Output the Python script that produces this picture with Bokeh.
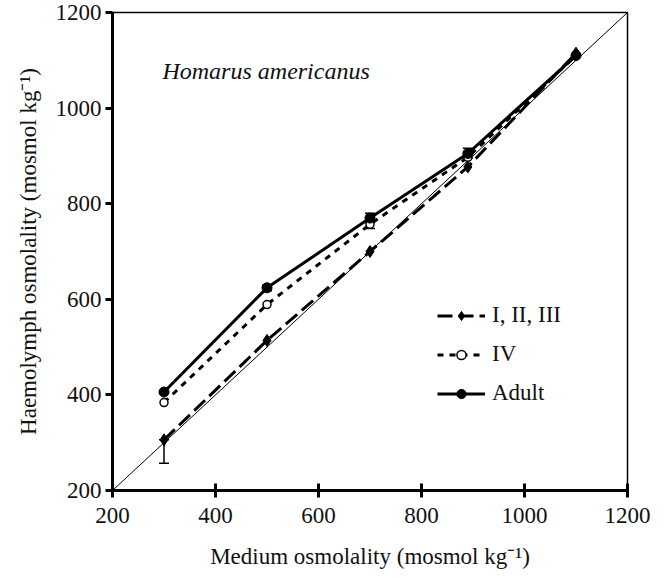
from bokeh.plotting import figure
from bokeh.models import Range1d, FixedTicker, Label, Whisker, ColumnDataSource, TeeHead
from bokeh.embed import file_html
from bokeh.resources import INLINE

# ---- data ----
medium = [300, 500, 700, 890, 1100]
stage_123 = [306, 514, 700, 877, 1115]
stage_4 = [384, 589, 757, 897, 1110]
adult = [406, 624, 770, 905, 1110]
identity = [200, 1200]
ticks = [200, 400, 600, 800, 1000, 1200]

err_x = [300, 500, 700, 890, 700]
err_lower = [257, 618, 760, 895, 748]
err_upper = [306, 630, 780, 916, 765]

FONT = "Liberation Serif"
FS = "23px"

p = figure(width=652, height=571, output_backend="svg", toolbar_location=None,
           x_range=Range1d(200, 1200), y_range=Range1d(200, 1200),
           min_border_left=112, min_border_right=25, min_border_top=12, min_border_bottom=79)
p.background_fill_color = "white"
p.border_fill_color = "white"
p.grid.visible = False
p.outline_line_color = "black"
p.outline_line_width = 1.5

# identity line
p.line(identity, identity, line_color="black", line_width=1)

# error bars
src = ColumnDataSource(dict(x=err_x, lo=err_lower, hi=err_upper))
w = Whisker(source=src, base="x", lower="lo", upper="hi", line_color="black", line_width=1.5,
            upper_head=TeeHead(size=10, line_width=1.5), lower_head=TeeHead(size=10, line_width=1.5))
p.add_layout(w)

# series
p.line(medium, stage_123, line_color="black", line_width=3, line_dash="15 6", legend_label="I, II, III")
p.scatter(medium, stage_123, marker="diamond", size=12, fill_color="black", line_color="black",
          legend_label="I, II, III")

p.line(medium, stage_4, line_color="black", line_width=3, line_dash="6 6", legend_label="IV")
p.scatter(medium, stage_4, marker="circle", size=8, fill_color="white", line_color="black",
          line_width=1.5, legend_label="IV")

p.line(medium, adult, line_color="black", line_width=3, legend_label="Adult")
p.scatter(medium, adult, marker="circle", size=10, fill_color="black", line_color="black",
          legend_label="Adult")

# annotation
p.add_layout(Label(x=297, y=1078, text="Homarus americanus", text_font=FONT, text_font_size="24px",
                   text_font_style="italic", text_baseline="alphabetic", text_color="#111111"))

# axes
for ax in (p.xaxis, p.yaxis):
    ax.ticker = FixedTicker(ticks=ticks)
    ax.axis_line_width = 3
    ax.major_tick_line_width = 3
    ax.minor_tick_line_color = None
    ax.major_label_text_font = FONT
    ax.major_label_text_font_size = FS
    ax.major_label_text_color = "#111111"
    ax.axis_label_text_font = FONT
    ax.axis_label_text_font_size = FS
    ax.axis_label_text_font_style = "normal"
    ax.axis_label_text_color = "#111111"

p.xaxis.major_tick_in = 7
p.xaxis.major_tick_out = 7
p.xaxis.major_label_standoff = 10
p.xaxis.axis_label = "Medium osmolality (mosmol kg\u207b\u00b9)"
p.xaxis.axis_label_standoff = 18

p.yaxis.major_tick_in = 0
p.yaxis.major_tick_out = 7
p.yaxis.major_label_standoff = 4
p.yaxis.axis_label = "Haemolymph osmolality (mosmol kg\u207b\u00b9)"
p.yaxis.axis_label_standoff = 12

# legend
lg = p.legend[0]
lg.location = (325, 84)
lg.background_fill_alpha = 0
lg.border_line_color = None
lg.padding = 0
lg.margin = 0
lg.glyph_width = 48
lg.glyph_height = 23
lg.label_height = 23
lg.spacing = 13
lg.label_standoff = 7
lg.label_text_font = FONT
lg.label_text_font_size = FS
lg.label_text_color = "#111111"

open("out.html", "w").write(file_html(p, INLINE))
